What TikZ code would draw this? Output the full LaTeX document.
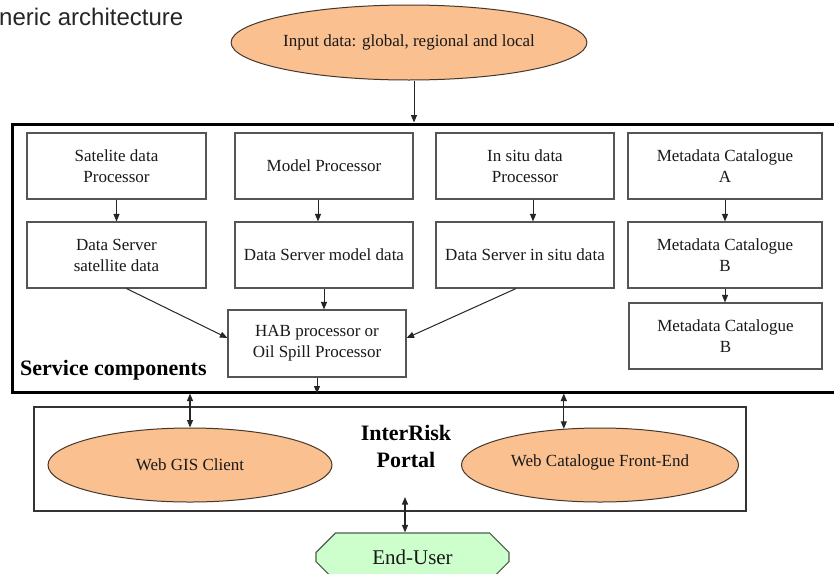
\documentclass[tikz,border=0pt]{standalone}
\usepackage{fontspec}
\setmainfont{Liberation Serif}
\newfontfamily\titlefont{Liberation Sans}
\usetikzlibrary{arrows.meta,shapes.geometric,shapes.misc}

\definecolor{ovalfill}{RGB}{250,192,143}
\definecolor{ovaledge}{RGB}{70,55,45}
\definecolor{boxedge}{RGB}{85,85,85}
\definecolor{txt}{RGB}{25,25,25}
\definecolor{userfill}{RGB}{204,255,204}
\definecolor{useredge}{RGB}{75,95,75}

\tikzset{
  comp/.style={draw=boxedge, line width=1.1pt, rectangle, inner sep=0pt,
    minimum width=178pt, minimum height=66pt, align=center, text=txt,
    font=\rmfamily\fontsize{17}{21}\selectfont},
  oval/.style={draw=ovaledge, line width=1pt, fill=ovalfill, ellipse, inner sep=0pt,
    align=center, text=txt, font=\rmfamily\fontsize{17}{21}\selectfont},
  flow/.style={-{Triangle[length=7.5pt,width=6pt]}, line width=1pt, draw=black!85},
  duplex/.style={{Triangle[length=7.5pt,width=6pt]}-{Triangle[length=7.5pt,width=6pt]},
    line width=1.2pt, draw=black!85},
  heading/.style={font=\rmfamily\bfseries\fontsize{22}{27}\selectfont, text=black, inner sep=0pt, align=center}
}

\begin{document}
\begin{tikzpicture}[x=1pt, y=-1pt]
  \clip (0,0) rectangle (834,573);
  \fill[white] (0,0) rectangle (834,573);

  % heading at the top left
  \node[anchor=base west, inner sep=0pt, font=\titlefont\fontsize{24}{28}\selectfont, text=black!85]
    (title) at (-1,25) {neric architecture};

  % input data
  \node[oval, minimum width=274pt, minimum height=75pt] (input) at (409,42.5)
    {Input data: global, regional and local};

  % service components frame
  \node[draw=black, line width=3pt, rectangle, inner sep=0pt,
        minimum width=838pt, minimum height=268pt] (svc) at (431,258) {};
  \node[heading, anchor=west] (svclabel) at (20,370) {Service components};

  % processors
  \node[comp, minimum width=179pt] (sat)    at (116.5,166) {Satelite data\\Processor};
  \node[comp]                      (model)  at (324,166)   {Model Processor};
  \node[comp]                      (insitu) at (525,166)   {In situ data\\Processor};
  \node[comp, minimum width=194pt] (metaA)  at (725,166)   {Metadata Catalogue\\A};

  % data servers
  \node[comp, minimum width=179pt] (dssat)    at (116.5,255) {Data Server\\satellite data};
  \node[comp]                      (dsmodel)  at (324,255)   {Data Server model data};
  \node[comp]                      (dsinsitu) at (525,255)   {Data Server in situ data};
  \node[comp, minimum width=194pt] (metaB)    at (725,255)   {Metadata Catalogue\\B};
  \node[comp, minimum width=193pt] (metaC)    at (725.5,336) {Metadata Catalogue\\B};

  % processor of the products
  \node[comp, minimum height=67pt] (hab) at (317,343.5) {HAB processor or\\Oil Spill Processor};

  % portal
  \node[draw=black!80, line width=1.3pt, rectangle, inner sep=0pt,
        minimum width=712pt, minimum height=104pt] (portal) at (390,459) {};
  \node[heading] (portallabel) at (406,446) {InterRisk\\Portal};
  \node[oval, minimum width=284pt, minimum height=74pt] (gis) at (190,465) {Web GIS Client};
  \node[oval, minimum width=277pt, minimum height=74pt] (webcat) at (600,465)
    {\raisebox{8pt}{Web Catalogue Front-End}};
  \coordinate (portalout) at (405,497);

  % end user
  \node[chamfered rectangle, chamfered rectangle xsep=12pt, chamfered rectangle ysep=12pt,
        draw=useredge, line width=1.2pt, fill=userfill, inner sep=0pt,
        minimum width=193pt, minimum height=48pt, text=txt,
        font=\rmfamily\fontsize{21}{25}\selectfont] (user) at (412.5,557) {End-User};

  % connectors
  \draw[flow] ([xshift=5pt]input.south) -- ([xshift=5pt]input.south |- svc.north);
  \draw[flow] (sat.south) -- (dssat.north);
  \draw[flow] ([xshift=-6pt]model.south) -- ([xshift=-6pt]dsmodel.north);
  \draw[flow] ([xshift=8pt]insitu.south) -- ([xshift=8pt]dsinsitu.north);
  \draw[flow] (metaA.south) -- (metaB.north);
  \draw[flow] (metaB.south) -- (metaB.south |- metaC.north);
  \draw[flow] ([xshift=10pt]dssat.south) -- ([yshift=5.5pt]hab.west);
  \draw[flow] ([xshift=-9pt]dsinsitu.south) -- ([yshift=5.5pt]hab.east);
  \draw[flow] (dsmodel.south) -- (dsmodel.south |- hab.north);
  \draw[flow] (hab.south) -- (hab.south |- svc.south);
  \draw[duplex] (gis.north |- svc.south) -- (gis.north);
  \draw[duplex] (webcat.135 |- svc.south) -- (webcat.135);
  \draw[duplex] (portalout) -- (portalout |- user.north);
\end{tikzpicture}
\end{document}
